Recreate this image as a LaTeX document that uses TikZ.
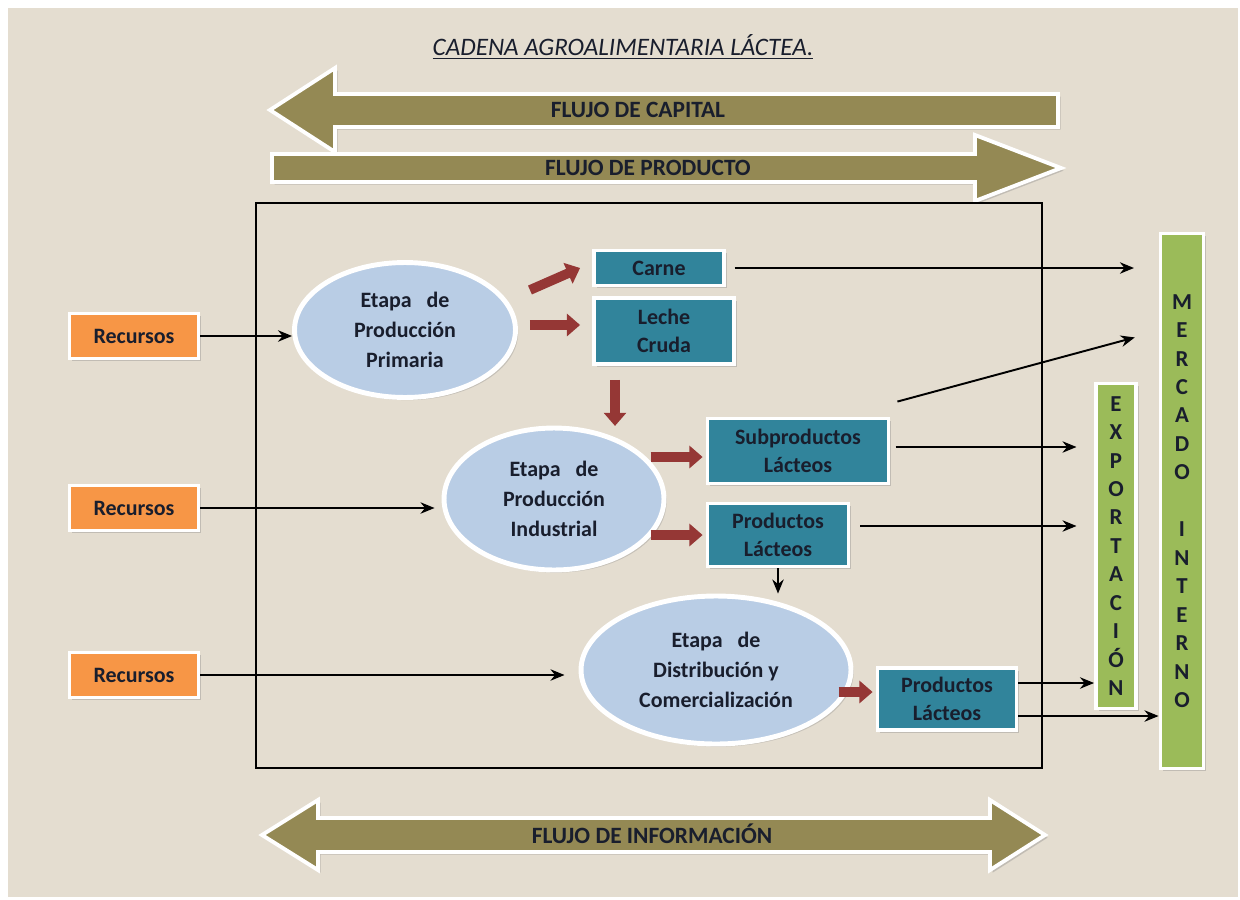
\documentclass[tikz,border=0pt]{standalone}
\usepackage{fontspec}
\setmainfont{Carlito}
\usetikzlibrary{shapes.geometric,arrows.meta,calc,shadows}

\definecolor{fondo}{RGB}{228,221,208}
\definecolor{olivo}{RGB}{148,137,84}
\definecolor{naranja}{RGB}{247,150,70}
\definecolor{celeste}{RGB}{185,205,229}
\definecolor{petroleo}{RGB}{49,132,155}
\definecolor{verde}{RGB}{155,187,89}
\definecolor{granate}{RGB}{149,55,53}
\definecolor{tinta}{RGB}{25,30,45}

\begin{document}
\begin{tikzpicture}[x=0.02cm,y=-0.02cm,
  caja/.style={rectangle, draw=white, line width=2.2pt, align=center, inner sep=0pt,
    text=tinta, font=\fontsize{12.5}{16}\selectfont\bfseries,
    drop shadow={shadow xshift=1.5pt,shadow yshift=-1.5pt,opacity=.35}},
  recurso/.style={caja, fill=naranja, minimum width=2.58cm, minimum height=0.9cm},
  producto/.style={caja, fill=petroleo},
  barra/.style={caja, fill=verde, font=\fontsize{13}{16.2}\selectfont\bfseries},
  etapa/.style={ellipse, fill=celeste, draw=white, line width=2.8pt, align=center,
    inner sep=0pt, text=tinta, font=\fontsize{12.5}{17}\selectfont\bfseries,
    drop shadow={shadow xshift=1.5pt,shadow yshift=-1.5pt,opacity=.3}},
  flujo/.style={fill=olivo, draw=white, line width=2.2pt, line join=miter,
    drop shadow={shadow xshift=1.5pt,shadow yshift=-1.5pt,opacity=.35}},
  rotulo/.style={text=tinta, font=\fontsize{13.3}{15}\selectfont\bfseries},
  enlace/.style={-{Stealth[length=8pt,width=6.5pt]}, line width=1.1pt},
  roja/.style={granate, line width=5.5pt, -{Triangle[length=7.5pt,width=12.5pt]}}]

  \useasboundingbox (0,0) rectangle (1240,899);
  \fill[white] (0,0) rectangle (1240,899);
  \fill[fondo] (8,8) rectangle (1238,897);

  % titulo
  \node[font=\fontsize{14.3}{16}\selectfont\itshape, text=tinta] (titulo) at (623,47)
    {\underline{CADENA AGROALIMENTARIA LÁCTEA.}};

  % flechas de flujo
  \draw[flujo] (270,110) -- (335,68) -- (335,94) -- (1058,94) -- (1058,127)
    -- (335,127) -- (335,152) -- cycle;
  \node[rotulo] (capital) at (638,110) {FLUJO DE CAPITAL};
  \draw[flujo] (272,154) -- (975,154) -- (975,135) -- (1061,168) -- (975,201)
    -- (975,182) -- (272,182) -- cycle;
  \node[rotulo] (producto) at (648,168) {FLUJO DE PRODUCTO};
  \draw[flujo] (262,835) -- (318,800) -- (318,818) -- (990,818) -- (990,800)
    -- (1045,835) -- (990,870) -- (990,852) -- (318,852) -- (318,870) -- cycle;
  \node[rotulo] (informacion) at (652,834) {FLUJO DE INFORMACIÓN};

  % marco de la cadena
  \draw[line width=1.2pt] (256,203) rectangle (1042,768);

  % recursos
  \node[recurso] (rec1) at (134,336) {Recursos};
  \node[recurso] (rec2) at (134,508) {Recursos};
  \node[recurso] (rec3) at (134,675) {Recursos};

  % etapas
  \node[etapa, minimum width=4.42cm, minimum height=2.7cm] (prim) at (405,330)
    {Etapa \ \ de\\Producción\\Primaria};
  \node[etapa, minimum width=4.4cm, minimum height=2.84cm] (ind) at (554,499)
    {Etapa \ \ de\\Producción\\Industrial};
  \node[etapa, minimum width=5.4cm, minimum height=2.96cm] (dist) at (716,670)
    {Etapa \ \ de\\Distribución y\\Comercialización};

  % productos
  \node[producto, minimum width=2.6cm, minimum height=0.7cm] (carne) at (659,268) {Carne};
  \node[producto, minimum width=2.8cm, minimum height=1.32cm] (leche) at (664,331) {Leche\\Cruda};
  \node[producto, minimum width=3.62cm, minimum height=1.3cm] (subp) at (798,451) {Subproductos\\Lácteos};
  \node[producto, minimum width=2.82cm, minimum height=1.26cm] (prod1) at (778,535) {Productos\\Lácteos};
  \node[producto, minimum width=2.78cm, minimum height=1.24cm] (prod2) at (947,699) {Productos\\Lácteos};

  % mercados
  \node[barra, minimum width=0.8cm, minimum height=6.5cm] (expo) at (1116,546)
    {E\\X\\P\\O\\R\\T\\A\\C\\I\\Ó\\N};
  \node[barra, minimum width=0.86cm, minimum height=10.7cm] (merc) at (1182,501)
    {M\\E\\R\\C\\A\\D\\O\\[16.2pt]I\\N\\T\\E\\R\\N\\O};

  % recursos a etapas
  \draw[enlace] (rec1.east) -- (rec1.east -| prim.west);
  \draw[enlace, shorten >=4pt] (rec2.east) -- (rec2.east -| ind.west);
  \draw[enlace, shorten >=8pt] (rec3.east) -- (rec3.east -| dist.west);

  % flechas rojas
  \draw[roja] ($(prim.east)+(12,-40)$) -- ($(carne.west)+(-12,0)$);
  \draw[roja] ($(prim.east)+(12,-5)$) -- ($(leche.west)+(-12,-6)$);
  \draw[roja] ($(leche.south)+(-49,14)$) -- ($(leche.south)+(-49,60)$);
  \draw[roja] ($(subp.west)+(-55,6)$) -- ($(subp.west)+(-3,6)$);
  \draw[roja] ($(prod1.west)+(-55,0)$) -- ($(prod1.west)+(-3,0)$);
  \draw[roja] ($(prod2.west)+(-37,-7)$) -- ($(prod2.west)+(-3,-7)$);

  % hacia los mercados
  \draw[enlace, shorten <=5pt, shorten >=14pt] (carne.east) -- (carne.east -| merc.west);
  \coordinate (subpsal) at ($(subp.north east)+(7,-15)$);
  \draw[enlace, shorten >=14pt] (subpsal) -- (leche.east -| merc.west);
  \draw[enlace, shorten <=3pt, shorten >=10pt] ($(subp.east)+(0,-4)$) -- ($(subp.east -| expo.west)+(0,-4)$);
  \coordinate (prod1sal) at ($(prod1.east)+(10,-9)$);
  \draw[enlace, shorten >=10pt] (prod1sal) -- (prod1sal -| expo.west);
  \draw[enlace] (prod1.south) -- (prod1.south |- dist.north);
  \coordinate (prod2sal1) at ($(prod2.east)+(0,-16)$);
  \coordinate (prod2sal2) at ($(prod2.east)+(0,17)$);
  \draw[enlace] (prod2sal1) -- (prod2sal1 -| expo.west);
  \draw[enlace] (prod2sal2) -- (prod2sal2 -| merc.west);

\end{tikzpicture}
\end{document}
